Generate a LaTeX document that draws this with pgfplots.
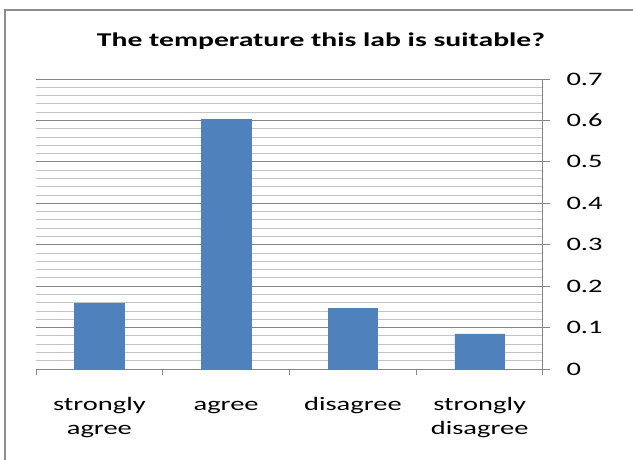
\documentclass[border=0pt]{standalone}
\usepackage{pgfplots}
\pgfplotsset{compat=1.18}
\usepackage{fontspec}
\setmainfont{Carlito}[FakeStretch=1.5]
\newfontfamily\titlefont{Carlito}[FakeStretch=1.52, BoldFont={Carlito Bold}]
\definecolor{barblue}{HTML}{4F81BD}
\definecolor{majgrid}{HTML}{868686}
\definecolor{mingrid}{HTML}{C4C4C4}
\definecolor{framec}{HTML}{8C8C8C}
\begin{document}
\begin{tikzpicture}[x=1pt,y=1pt]
\useasboundingbox (0,0) rectangle (633,459);
\draw[line width=1.6pt, framec] (5,-5) -- (5,449) -- (640,449);
\node[font=\titlefont\bfseries\fontsize{19.5}{23}\selectfont, anchor=base, inner sep=0pt] at (321,412) {The temperature this lab is suitable?};
\begin{axis}[
  at={(36pt,90pt)}, anchor=south west,
  scale only axis, width=507pt, height=290pt,
  ymin=0, ymax=0.7, xmin=-0.5, xmax=3.5,
  axis x line*=bottom, axis y line*=right,
  axis line style={majgrid, line width=1pt},
  xtick={0,1,2,3},
  xticklabels={{strongly\\agree},agree,disagree,{strongly\\disagree}},
  typeset ticklabels with strut,
  xtick style={draw=none},
  extra x ticks={-0.5,0.5,1.5,2.5,3.5},
  extra x tick labels={},
  extra x tick style={xtick style={draw=majgrid, line width=1pt}, major tick length=6pt, tick align=outside, xmajorgrids=false},
  xticklabel style={align=center, font=\fontsize{19}{24}\selectfont, anchor=north, yshift=-14pt},
  ytick={0,0.1,0.2,0.3,0.4,0.5,0.6,0.7},
  minor y tick num=4,
  ymajorgrids, yminorgrids,
  major grid style={majgrid, line width=1pt},
  minor grid style={mingrid, line width=1pt},
  ytick style={draw=majgrid, line width=1pt},
  tick align=outside,
  major tick length=7pt,
  minor tick length=0pt,
  yticklabel style={anchor=west, font=\fontsize{19}{23}\selectfont, xshift=13pt},
  /pgf/number format/assume math mode=true,
  yticklabel={\pgfmathprintnumber[fixed,precision=1]{\tick}},
]
\addplot[ybar, bar width=0.39, fill=barblue, draw=barblue] coordinates {(0,0.158) (1,0.603) (2,0.146) (3,0.085)};
\end{axis}
\end{tikzpicture}
\end{document}
